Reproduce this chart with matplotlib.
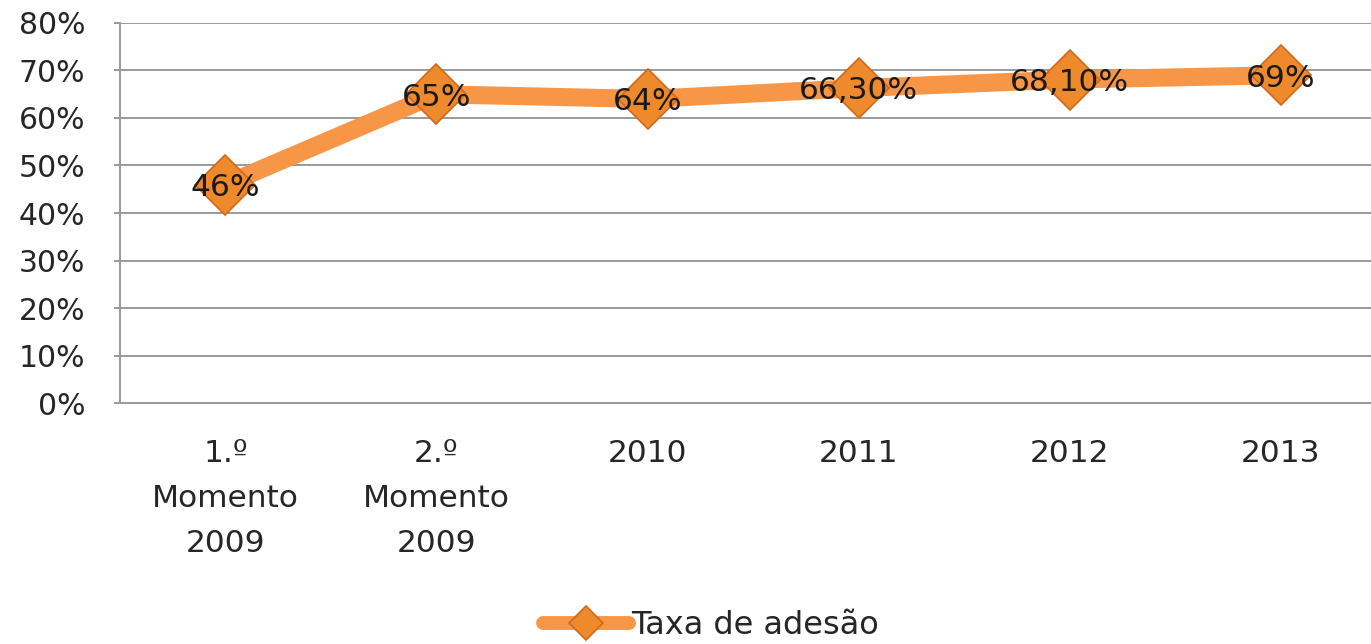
import matplotlib.pyplot as plt
from matplotlib.ticker import FuncFormatter

plt.rcParams['font.family'] = ['DejaVu Sans']

# dados
categorias = ['1.º\nMomento\n2009', '2.º\nMomento\n2009', '2010', '2011', '2012', '2013']
taxa = [46, 65, 64, 66.3, 68.1, 69]
rotulos = ['46%', '65%', '64%', '66,30%', '68,10%', '69%']

fig = plt.figure(figsize=(13.71, 6.44), dpi=100, facecolor='white')
ax = fig.add_axes([0.0875, 0.3742, 0.9235, 0.5901])

x = range(len(categorias))
ax.plot(x, taxa, color='#F79646', linewidth=13, solid_capstyle='round',
        marker='D', markersize=31, markerfacecolor='#EF8A2C',
        markeredgecolor='#D06A1A', markeredgewidth=1.2, zorder=3,
        label='Taxa de adesão')

for xi, v, r in zip(x, taxa, rotulos):
    ax.text(xi, v - 0.6, r, ha='center', va='center', fontsize=22.5,
            color='#1a1a1a', zorder=4)

ax.set_xlim(-0.5, 5.5)
ax.set_ylim(0, 80)
ax.set_yticks(range(0, 81, 10))
ax.yaxis.set_major_formatter(FuncFormatter(lambda v, p: f'{v:.0f}%'))
ax.set_xticks(list(x))
ax.set_xticklabels(categorias, linespacing=1.7)

ax.grid(axis='y', color='#9a9a9a', linewidth=1.4)
ax.set_axisbelow(True)
for s in ['top', 'right']:
    ax.spines[s].set_visible(False)
ax.spines['left'].set_color('#9a9a9a')
ax.spines['bottom'].set_color('#9a9a9a')
ax.spines['left'].set_linewidth(1.4)
ax.spines['bottom'].set_linewidth(1.4)

ax.tick_params(axis='y', length=4, color='#9a9a9a', width=1.4, labelsize=21.5,
               labelcolor='#262626', pad=21)
ax.tick_params(axis='x', length=0, labelsize=22.5, labelcolor='#262626', pad=26)

leg = ax.legend(loc='center', bbox_to_anchor=(711 / 1371, 1 - 626 / 644),
                bbox_transform=fig.transFigure, frameon=False, fontsize=23,
                handlelength=2.7, handletextpad=0.05, markerscale=0.55)
leg.get_lines()[0].set_linewidth(10)
for t in leg.get_texts():
    t.set_color('#262626')

fig.savefig('out.png', dpi=100)
